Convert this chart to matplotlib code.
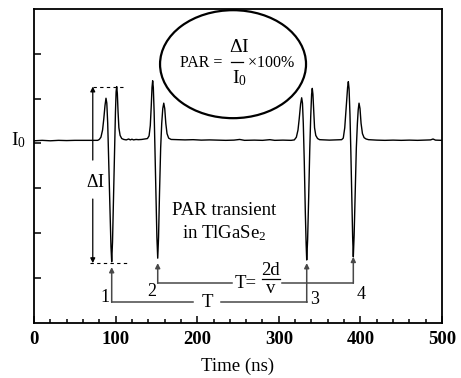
import matplotlib
matplotlib.use('Agg')
import matplotlib.pyplot as plt
from matplotlib.patches import Ellipse
from matplotlib.ticker import MultipleLocator

plt.rcParams['font.family'] = ['Liberation Serif', 'DejaVu Serif']
plt.rcParams['mathtext.fontset'] = 'custom'
plt.rcParams['mathtext.rm'] = 'Liberation Serif'
plt.rcParams['mathtext.it'] = 'Liberation Serif:italic'
plt.rcParams['mathtext.bf'] = 'Liberation Serif:bold'

# signal (time in ns, current in arbitrary units)
time_ns = [0, 10, 20, 30, 40, 50, 60, 70, 78,
           80, 82, 84, 85.5, 87, 88.2, 89.2, 90.3, 91.5, 93, 94.3, 95.2, 96.2, 97.5, 98.8,
           99.8, 100.6, 101.3, 102.1, 103, 104, 105.5, 107.5, 110,
           113, 116, 118, 120, 122, 125, 128, 132, 136, 139,
           141, 142.5, 143.7, 144.6, 145.4, 146.2, 147.2, 148.3, 149.5, 150.6, 151.6, 152.6,
           153.8, 155.2, 156.5, 157.8, 159.0, 160.2, 161.5, 163, 165, 168,
           175, 185, 195, 205, 215, 225, 235, 245, 252, 258, 270, 280, 289, 295, 305, 315,
           319, 321.5, 323.5, 325, 326.7, 328, 329, 330, 331.2, 332.5, 333.5, 334.2, 335.3,
           336.6, 337.9, 339.1, 340.2, 341, 341.8, 342.8, 343.8, 345.3, 347.5, 350,
           355, 362, 370, 377,
           379, 380.8, 382.5, 384.3, 385.2, 386.1, 387.2, 388.3, 389.4, 390.5, 391.3, 392.3,
           393.6, 395, 396.3, 397.3, 398.3, 399.5, 400.8, 402.5, 404.5, 407, 410,
           420, 430, 440, 450, 460, 470, 480, 486, 489, 492, 500]
signal = [4.06, 4.07, 4.06, 4.07, 4.065, 4.07, 4.07, 4.07, 4.07,
          4.09, 4.14, 4.30, 4.55, 4.85, 5.01, 4.90, 4.45, 3.60, 2.45, 1.70, 1.36, 1.80, 2.80, 3.90,
          4.70, 5.15, 5.27, 5.12, 4.70, 4.35, 4.18, 4.11, 4.09,
          4.08, 4.10, 4.08, 4.095, 4.08, 4.09, 4.085, 4.09, 4.10, 4.11,
          4.17, 4.40, 4.85, 5.25, 5.40, 5.25, 4.70, 3.80, 2.80, 1.90, 1.44, 1.90,
          2.90, 3.90, 4.45, 4.78, 4.90, 4.78, 4.45, 4.22, 4.12, 4.09,
          4.085, 4.08, 4.085, 4.075, 4.08, 4.075, 4.07, 4.075, 4.09, 4.07, 4.075, 4.07, 4.085, 4.07, 4.075, 4.07,
          4.08, 4.14, 4.30, 4.55, 4.88, 5.02, 4.90, 4.45, 3.60, 2.45, 1.75, 1.40, 1.85,
          2.80, 3.85, 4.60, 5.10, 5.23, 5.10, 4.70, 4.35, 4.18, 4.11, 4.085,
          4.08, 4.075, 4.08, 4.085,
          4.12, 4.35, 4.80, 5.25, 5.38, 5.22, 4.65, 3.80, 2.80, 1.90, 1.47, 1.95,
          2.90, 3.90, 4.45, 4.75, 4.90, 4.78, 4.45, 4.22, 4.13, 4.10, 4.085,
          4.075, 4.07, 4.075, 4.07, 4.075, 4.07, 4.075, 4.08, 4.10, 4.075, 4.07]

xticks = [0, 100, 200, 300, 400, 500]
pulse_labels = ['1', '2', '3', '4']
pulse_times = [95.2, 151.6, 334.2, 391.3]

fig = plt.figure(figsize=(4.61, 3.78), dpi=100)
ax = fig.add_axes([0.0738, 0.1463, 0.885, 0.8297])

ax.plot(time_ns, signal, color='black', lw=1.0)

ax.set_xlim(0, 500)
ax.set_ylim(0, 7)
ax.set_xticks(xticks)
ax.set_xticklabels([str(t) for t in xticks], fontweight='bold', fontsize=13.5)
ax.xaxis.set_minor_locator(MultipleLocator(20))
ax.set_yticks([1, 2, 3, 4, 5, 6])
ax.set_yticklabels([])
ax.tick_params(which='both', direction='in', top=False, right=False, width=1.1)
ax.tick_params(which='major', length=5, pad=6)
ax.tick_params(which='minor', length=3)
for s in ax.spines.values():
    s.set_linewidth(1.3)
ax.set_xlabel('Time (ns)', fontsize=13.5, labelpad=7)

# I0 on the left
ax.text(-10, 4.07, r'I$_0$', fontsize=14, ha='right', va='center', clip_on=False)

# Delta I markers
ax.plot([72, 111.5], [5.27, 5.27], color='black', lw=0.8, ls=(0, (3, 3)))
ax.plot([68.5, 115], [1.33, 1.33], color='black', lw=0.8, ls=(0, (3, 3)))
arr = dict(arrowstyle='-|>', color='black', lw=0.9, mutation_scale=7, shrinkA=0, shrinkB=0)
ax.annotate('', xy=(72, 5.27), xytext=(72, 3.63), arrowprops=arr)
ax.annotate('', xy=(72, 1.33), xytext=(72, 2.76), arrowprops=arr)
ax.text(75, 3.12, r'$\Delta$I', fontsize=13, ha='center', va='center')

# period arrows
gray = '#484848'
garr = dict(arrowstyle='-|>', color=gray, lw=1.1, mutation_scale=7, shrinkA=0, shrinkB=0)
ax.annotate('', xy=(pulse_times[0], 1.24), xytext=(pulse_times[0], 0.455), arrowprops=garr)
ax.annotate('', xy=(pulse_times[2], 1.33), xytext=(pulse_times[2], 0.455), arrowprops=garr)
ax.annotate('', xy=(pulse_times[1], 1.33), xytext=(pulse_times[1], 0.88), arrowprops=garr)
ax.annotate('', xy=(pulse_times[3], 1.47), xytext=(pulse_times[3], 0.88), arrowprops=garr)
ax.plot([pulse_times[0], 195], [0.455, 0.455], color=gray, lw=1.1)
ax.plot([229, pulse_times[2]], [0.455, 0.455], color=gray, lw=1.1)
ax.text(213, 0.44, 'T', fontsize=13.5, ha='center', va='center')
ax.plot([pulse_times[1], 242.6], [0.88, 0.88], color=gray, lw=1.1)
ax.plot([303.5, pulse_times[3]], [0.88, 0.88], color=gray, lw=1.1)
ax.text(259, 0.87, 'T=', fontsize=13.5, ha='center', va='center')
ax.text(290, 1.16, '2d', fontsize=13.5, ha='center', va='center')
ax.plot([279.5, 301], [0.97, 0.97], color='black', lw=0.9)
ax.text(290, 0.76, 'v', fontsize=13.5, ha='center', va='center')

label_pos = [(87, 0.57), (144.2, 0.69), (344.4, 0.52), (400.4, 0.62)]
for lab, (lx, ly) in zip(pulse_labels, label_pos):
    ax.text(lx, ly, lab, fontsize=13, ha='center', va='center')

# sample description
ax.text(233, 2.5, 'PAR transient', fontsize=13.5, ha='center', va='center')
ax.text(233, 2.0, r'in TlGaSe$_2$', fontsize=13.5, ha='center', va='center')

# PAR formula in ellipse
ax.add_patch(Ellipse((243.9, 5.77), 178.9, 2.41, fill=False, lw=1.6, color='black'))
ax.text(205, 5.80, 'PAR =', fontsize=11.5, ha='center', va='center')
ax.text(251, 6.15, r'$\Delta$I', fontsize=14, ha='center', va='center')
ax.plot([241, 256], [5.82, 5.82], color='black', lw=0.9)
ax.text(252, 5.45, r'I$_0$', fontsize=14, ha='center', va='center')
ax.text(290.5, 5.80, r'$\times$100%', fontsize=11.5, ha='center', va='center')

fig.savefig('out.png', dpi=100)
